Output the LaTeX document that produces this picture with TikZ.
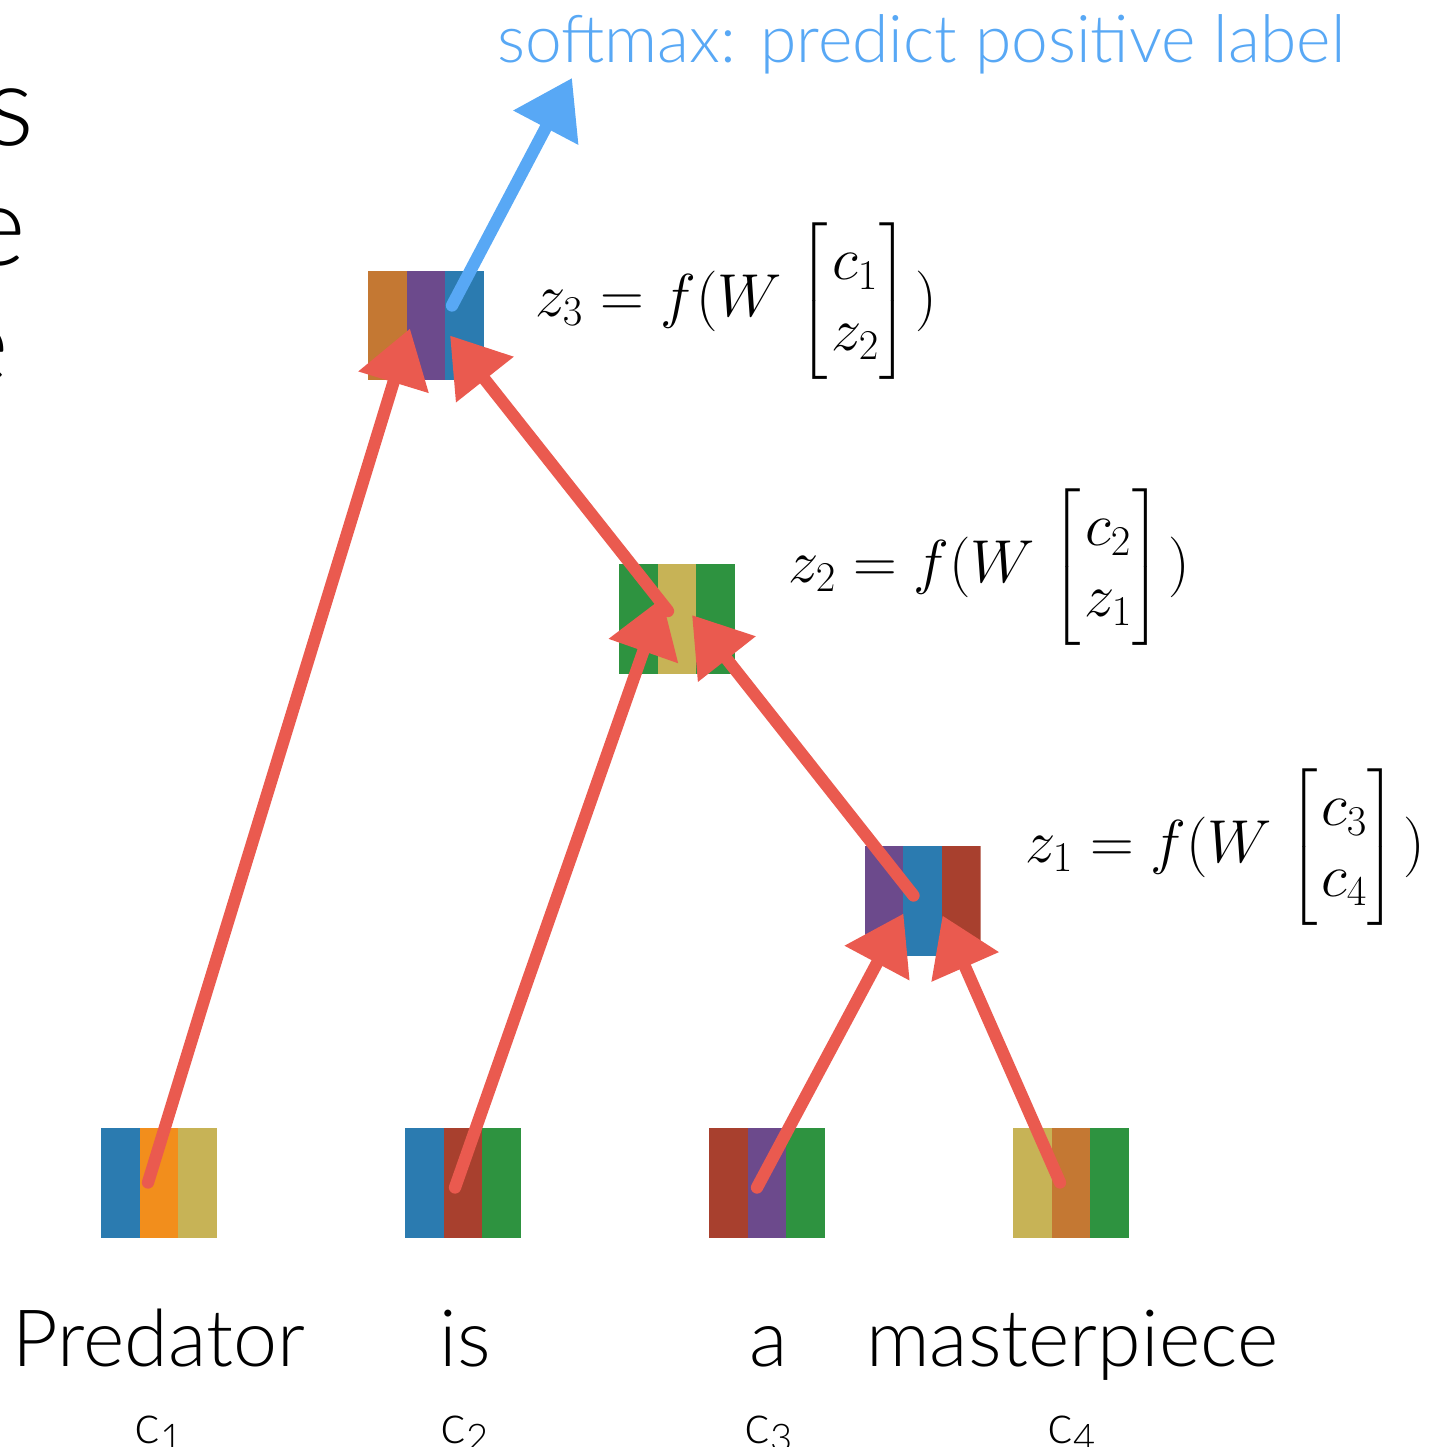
\RequirePackage{fix-cm}
\documentclass[tikz,border=0pt]{standalone}
\usepackage[no-math]{fontspec}
\usepackage{amsmath}
\setmainfont{Lato}[UprightFont=* Light]
\usetikzlibrary{arrows.meta,calc}
\definecolor{sblue}{HTML}{2B7BB0}
\definecolor{sorange}{HTML}{F28E1C}
\definecolor{solive}{HTML}{C7B356}
\definecolor{srust}{HTML}{A8402E}
\definecolor{sgreen}{HTML}{2E9340}
\definecolor{spurple}{HTML}{6C4A8C}
\definecolor{sbrown}{HTML}{C47833}
\definecolor{arrowred}{HTML}{EA5A4F}
\definecolor{softblue}{HTML}{58A8F5}
\newcommand{\compvec}[2]{f(W\mkern2mu\begin{bmatrix}\mkern1mu #1 \\ \mkern1mu #2 \end{bmatrix}\mkern2mu)}
\tikzset{
  vecbox/.style n args={3}{inner sep=0pt, minimum width=2.32cm, minimum height=2.2cm,
    path picture={
      \fill[#1] (path picture bounding box.south west) rectangle ([xshift=-1.5467cm]path picture bounding box.north east);
      \fill[#2] ([xshift=0.7733cm]path picture bounding box.south west) rectangle ([xshift=-0.7733cm]path picture bounding box.north east);
      \fill[#3] ([xshift=1.5467cm]path picture bounding box.south west) rectangle (path picture bounding box.north east);
    }},
  redarrow/.style={draw=arrowred, line width=7pt, line cap=round, -{Triangle[length=32pt,width=40pt]}},
  bluearrow/.style={draw=softblue, line width=7pt, line cap=round, -{Triangle[length=32pt,width=40pt]}},
  eq/.style={inner sep=0pt, font=\fontsize{34.5}{40}\selectfont},
  word/.style={inner sep=0pt, font=\fontsize{45}{52}\selectfont},
  clab/.style={inner sep=0pt, font=\fontsize{31}{37}\selectfont},
  cuttext/.style={inner sep=0pt, font=\fontsize{64}{74}\selectfont},
  title/.style={inner sep=0pt, text=softblue, font=\fontsize{37.5}{44}\selectfont}
}
\begin{document}
\begin{tikzpicture}[x=0.02cm,y=-0.02cm]
\useasboundingbox (0,0) rectangle (1428,1447);
\clip (0,0) rectangle (1428,1447);
% cut-off slide text
\node[cuttext, anchor=base east] (cs) at (35,145) {s};
\node[cuttext, anchor=base east] (ce1) at (26,265) {e};
\node[cuttext, anchor=base east] (ce2) at (9,382) {e};
% boxes
\node[vecbox={sblue}{sorange}{solive}] (c1) at (159,1182.5) {};
\node[vecbox={sblue}{srust}{sgreen}] (c2) at (463,1182.5) {};
\node[vecbox={srust}{spurple}{sgreen}] (c3) at (767,1182.5) {};
\node[vecbox={solive}{sbrown}{sgreen}] (c4) at (1071,1182.5) {};
\node[vecbox={spurple}{sblue}{srust}] (z1) at (922.5,900.5) {};
\node[vecbox={sgreen}{solive}{sgreen}] (z2) at (677,619) {};
\node[vecbox={sbrown}{spurple}{sblue}] (z3) at (426,325.5) {};
% title
\node[title, anchor=base west] (soft) at (497,62) {softmax: predict positive label};
\coordinate (softtip) at (572,78);
% arrows
\draw[redarrow] ($(c1.center)+(-11,0)$) -- ($(z3.center)+(-16,3)$);
\draw[redarrow] ($(z2.center)+(-9,-8)$) -- ($(z3.center)+(24,10)$);
\draw[redarrow] ($(c2.center)+(-8,5)$) -- ($(z2.center)+(-15,-21)$);
\draw[redarrow] ($(z1.center)+(-9,-5)$) -- ($(z2.center)+(15,-4)$);
\draw[redarrow] ($(c3.center)+(-10,5)$) -- ($(z1.center)+(-19,13)$);
\draw[redarrow] ($(c4.center)+(-11,0)$) -- ($(z1.center)+(20,15)$);
\draw[bluearrow] ($(z3.center)+(26,-20)$) -- (softtip);
% equations
\node[eq, anchor=west] (e3) at (535,301) {$z_3 = \compvec{c_1}{z_2}$};
\node[eq, anchor=west] (e2) at (788,567) {$z_2 = \compvec{c_2}{z_1}$};
\node[eq, anchor=west] (e1) at (1025,847) {$z_1 = \compvec{c_3}{c_4}$};
% words
\node[word, anchor=base] (w1) at (159,1366) {Predator};
\node[word, anchor=base] (w2) at (465,1366) {is};
\node[word, anchor=base] (w3) at (769,1366) {a};
\node[word, anchor=base] (w4) at (1072,1366) {masterpiece};
\node[clab, anchor=base] (l1) at (159,1443) {c\textsubscript{1}};
\node[clab, anchor=base] (l2) at (465,1443) {c\textsubscript{2}};
\node[clab, anchor=base] (l3) at (769,1443) {c\textsubscript{3}};
\node[clab, anchor=base] (l4) at (1072,1443) {c\textsubscript{4}};
\end{tikzpicture}
\end{document}
